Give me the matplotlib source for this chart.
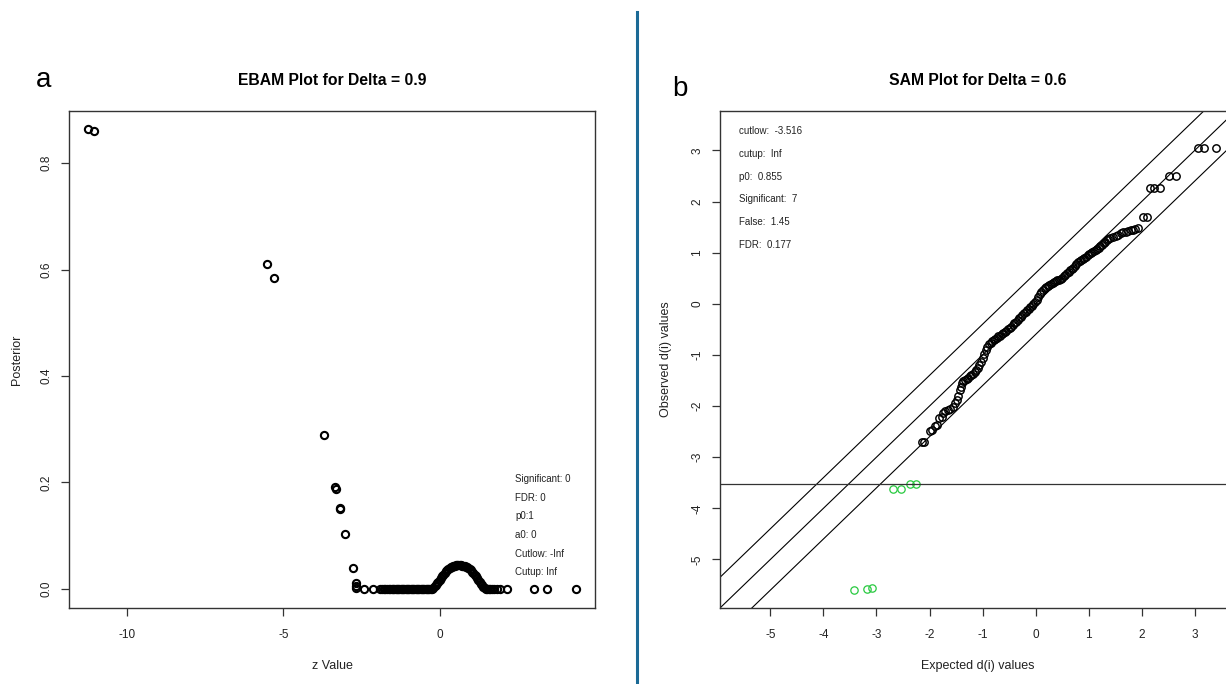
import matplotlib
matplotlib.use("Agg")
import matplotlib.pyplot as plt
from matplotlib.lines import Line2D

plt.rcParams['font.family'] = ['Liberation Sans', 'DejaVu Sans']

# --- Panel a: EBAM (z-Wert gegen Posterior) ---
z_a = [-11.24, -11.05, -5.51, -5.29, -3.70, -3.34, -3.33, -3.19, -3.18, -3.03,
       -2.77, -2.69, -2.68, -2.67,
       -2.44, -2.14, -1.91, -1.86, -1.80, -1.75, -1.70, -1.64, -1.59, -1.55,
       -1.50, -1.46, -1.42, -1.38, -1.34, -1.30, -1.26, -1.22, -1.18, -1.14,
       -1.10, -1.06, -1.02, -0.98, -0.94, -0.90, -0.86, -0.82, -0.78, -0.74,
       -0.70, -0.66, -0.62, -0.58, -0.54, -0.50, -0.46, -0.42, -0.38, -0.34,
       -0.30,
       -0.26, -0.22, -0.18, -0.14, -0.10, -0.06, -0.02, 0.02, 0.06, 0.10,
       0.14, 0.18, 0.22, 0.26, 0.30, 0.34, 0.38, 0.42, 0.46, 0.50,
       0.54, 0.58, 0.62, 0.66, 0.70, 0.74, 0.78, 0.82, 0.86, 0.90,
       0.94, 0.98, 1.02, 1.06, 1.10, 1.14, 1.18, 1.22, 1.26, 1.30,
       1.34, 1.38, 1.42, 1.46,
       1.50, 1.55, 1.60, 1.66, 1.72, 1.80, 1.90, 2.13, 2.98, 3.42, 4.32]
post_a = [0.864, 0.860, 0.610, 0.584, 0.289, 0.191, 0.187, 0.153, 0.150, 0.103,
          0.039, 0.011, 0.006, 0.001,
          0, 0, 0, 0, 0, 0, 0, 0, 0, 0,
          0, 0, 0, 0, 0, 0, 0, 0, 0, 0,
          0, 0, 0, 0, 0, 0, 0, 0, 0, 0,
          0, 0, 0, 0, 0, 0, 0, 0, 0, 0,
          0,
          0.000, 0.002, 0.005, 0.008, 0.011, 0.014, 0.017, 0.021, 0.024, 0.027,
          0.030, 0.033, 0.035, 0.037, 0.039, 0.041, 0.042, 0.043, 0.044, 0.045,
          0.045, 0.045, 0.045, 0.045, 0.044, 0.044, 0.043, 0.042, 0.041, 0.039,
          0.037, 0.035, 0.032, 0.030, 0.027, 0.024, 0.020, 0.017, 0.013, 0.010,
          0.007, 0.004, 0.002, 0.000,
          0, 0, 0, 0, 0, 0, 0, 0, 0, 0, 0]
text_a = ["Significant: 0", "FDR: 0", "p0:1", "a0: 0", "Cutlow: -Inf", "Cutup: Inf"]

# --- Panel b: SAM (erwartete gegen beobachtete d-Werte) ---
exp_b = [-2.15, -2.10, -1.99, -1.95, -1.90, -1.85, -1.82, -1.77, -1.74, -1.70,
         -1.66, -1.61, -1.56, -1.52, -1.49, -1.46, -1.43, -1.41, -1.39, -1.36,
         -1.33, -1.30, -1.27, -1.24, -1.21, -1.18, -1.15, -1.12, -1.09, -1.06,
         -1.03, -1.00, -0.97, -0.94, -0.91, -0.88, -0.85, -0.82, -0.79, -0.76,
         -0.73, -0.70, -0.67, -0.64, -0.61, -0.58, -0.55, -0.52, -0.49, -0.46,
         -0.43, -0.40, -0.37, -0.34, -0.31, -0.28, -0.25, -0.22, -0.19, -0.16,
         -0.13, -0.10, -0.07, -0.04, -0.01, 0.02, 0.05, 0.08, 0.11, 0.14,
         0.17, 0.20, 0.23, 0.26, 0.29, 0.32, 0.35, 0.38, 0.41, 0.44,
         0.47, 0.50, 0.53, 0.56, 0.59, 0.62, 0.65, 0.68, 0.71, 0.74,
         0.77, 0.80, 0.83, 0.86, 0.89, 0.92, 0.95, 0.98, 1.01, 1.04,
         1.07, 1.10, 1.13, 1.16, 1.19, 1.22, 1.25, 1.28, 1.31, 1.34,
         1.37, 1.41, 1.46, 1.51, 1.56, 1.61, 1.65, 1.70, 1.74, 1.79,
         1.84, 1.88, 1.93, 2.02, 2.10, 2.15, 2.24, 2.35, 2.51, 2.64,
         3.06, 3.17, 3.40]
obs_b = [-2.70, -2.70, -2.48, -2.46, -2.40, -2.37, -2.24, -2.22, -2.13, -2.10,
         -2.07, -2.05, -2.02, -1.95, -1.89, -1.80, -1.69, -1.62, -1.54, -1.52,
         -1.50, -1.48, -1.45, -1.42, -1.40, -1.38, -1.33, -1.29, -1.25, -1.19,
         -1.13, -1.06, -0.98, -0.90, -0.84, -0.79, -0.76, -0.73, -0.71, -0.68,
         -0.66, -0.64, -0.63, -0.60, -0.58, -0.55, -0.53, -0.50, -0.47, -0.45,
         -0.42, -0.38, -0.35, -0.31, -0.28, -0.25, -0.22, -0.19, -0.16, -0.13,
         -0.10, -0.07, -0.04, -0.01, 0.03, 0.08, 0.13, 0.19, 0.23, 0.27,
         0.30, 0.32, 0.34, 0.36, 0.38, 0.40, 0.42, 0.44, 0.46, 0.47,
         0.49, 0.51, 0.54, 0.57, 0.60, 0.63, 0.66, 0.68, 0.70, 0.74,
         0.78, 0.82, 0.84, 0.86, 0.88, 0.90, 0.92, 0.95, 0.97, 1.00,
         1.02, 1.03, 1.05, 1.07, 1.09, 1.12, 1.15, 1.18, 1.21, 1.25,
         1.27, 1.29, 1.30, 1.32, 1.35, 1.38, 1.40, 1.41, 1.43, 1.44,
         1.45, 1.46, 1.48, 1.69, 1.69, 2.27, 2.27, 2.27, 2.49, 2.49,
         3.04, 3.04, 3.05]
exp_sig = [-3.42, -3.17, -3.09, -2.68, -2.53, -2.36, -2.26]
obs_sig = [-5.59, -5.57, -5.55, -3.63, -3.63, -3.53, -3.53]
delta_b = 0.6
cutlow_b = -3.516
text_b = ["cutlow:  -3.516", "cutup:  Inf", "p0:  0.855", "Significant:  7",
          "False:  1.45", "FDR:  0.177"]

W, H = 1226, 684
fig = plt.figure(figsize=(W / 100, H / 100), dpi=100)


def r_style(ax):
    # Achsen im Stil von R-Basisgrafik
    for s in ax.spines.values():
        s.set_color('#333333')
        s.set_linewidth(1.0)
    ax.tick_params(direction='out', length=6, width=0.9, color='#333333',
                   labelsize=8.5, labelcolor='#222222')
    ax.tick_params(axis='x', pad=9)
    ax.tick_params(axis='y', pad=6)
    for lab in ax.get_yticklabels():
        lab.set_rotation(90)
        lab.set_va('center')


# Panel a
ax1 = fig.add_axes([69 / W, 1 - 608 / H, 526 / W, 497 / H])
ax1.plot(z_a, post_a, linestyle='none', marker='o', mfc='none', mec='black',
         ms=5.2, mew=1.5)
ax1.set_xlim(-11.84, 4.94)
ax1.set_ylim(-0.0357, 0.8977)
ax1.set_xticks([-10, -5, 0])
ax1.set_xticklabels(['-10', '-5', '0'])
ax1.set_yticks([0.0, 0.2, 0.4, 0.6, 0.8])
ax1.set_yticklabels(['0.0', '0.2', '0.4', '0.6', '0.8'])
r_style(ax1)
ax1.set_title("EBAM Plot for Delta = 0.9", fontsize=11.3, fontweight='bold', pad=19)
ax1.set_xlabel("z Value", fontsize=9, color='#222222')
ax1.xaxis.set_label_coords(0.5, -0.104)
ax1.set_ylabel("Posterior", fontsize=9, color='#222222')
ax1.yaxis.set_label_coords(-0.087, 0.5)
for i, t in enumerate(text_a):
    ax1.text(0.848, 0.2596 - i * 0.0375, t, transform=ax1.transAxes,
             fontsize=7, va='center', ha='left', color='#222222')

# Panel b
lim_b = (-5.95, 3.77)
ax2 = fig.add_axes([720 / W, 1 - 608 / H, 515.6 / W, 497 / H])
ax2.plot(exp_b, obs_b, linestyle='none', marker='o', mfc='none', mec='black',
         ms=5.3, mew=1.05)
ax2.plot(exp_sig, obs_sig, linestyle='none', marker='o', mfc='none', mec='#27c93f',
         ms=5.3, mew=0.9)
ax2.axline((0, 0), slope=1, color='black', lw=0.8)
ax2.axline((0, delta_b), slope=1, color='black', lw=0.8)
ax2.axline((0, -delta_b), slope=1, color='black', lw=0.8)
ax2.axhline(cutlow_b, color='#333333', lw=0.9)
ax2.set_xlim(*lim_b)
ax2.set_ylim(*lim_b)
ax2.set_xticks(range(-5, 4))
ax2.set_xticklabels([str(v) for v in range(-5, 4)])
ax2.set_yticks(range(-5, 4))
ax2.set_yticklabels([str(v) for v in range(-5, 4)])
r_style(ax2)
ax2.set_title("SAM Plot for Delta = 0.6", fontsize=11.3, fontweight='bold', pad=19)
ax2.set_xlabel("Expected d(i) values", fontsize=9, color='#222222')
ax2.xaxis.set_label_coords(0.5, -0.104)
ax2.set_ylabel("Observed d(i) values", fontsize=9, color='#222222')
ax2.yaxis.set_label_coords(-0.094, 0.5)
for i, t in enumerate(text_b):
    ax2.text(0.037, 0.960 - i * 0.046, t, transform=ax2.transAxes,
             fontsize=7, va='center', ha='left', color='#222222')

# Panelbuchstaben und Trennlinie
fig.text(44 / W, 1 - 80 / H, "a", fontsize=20, ha='center', va='center')
fig.text(680 / W, 1 - 89 / H, "b", fontsize=20, ha='center', va='center')
fig.add_artist(Line2D([637 / W, 637 / W], [0, 1 - 12 / H], color='#1b6a96', lw=2.2))

fig.savefig("out.png", dpi=100)
